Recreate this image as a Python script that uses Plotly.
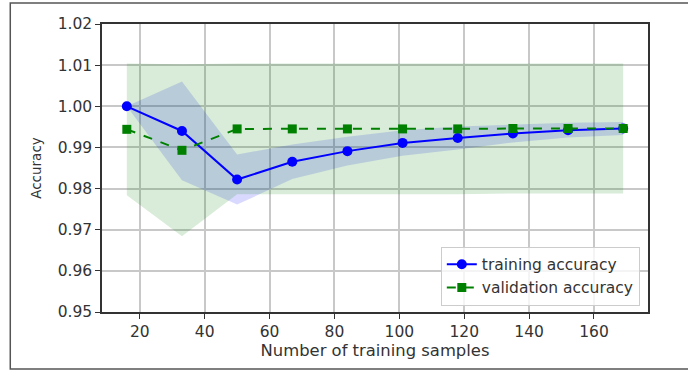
import plotly.graph_objects as go
import numpy as np

train_sizes = [16, 33, 50, 67, 84, 101, 118, 135, 152, 169]
train_mean = [1.0000, 0.9940, 0.9822, 0.9865, 0.9891, 0.9911, 0.9923, 0.9934, 0.9942, 0.9946]
train_std = [0.0000, 0.0120, 0.0061, 0.0042, 0.0035, 0.0031, 0.0028, 0.0022, 0.0018, 0.0016]
test_mean = [0.9944, 0.9893, 0.9945, 0.9945, 0.9945, 0.9945, 0.9945, 0.9946, 0.9946, 0.9946]
test_std = [0.0160, 0.0209, 0.0159, 0.0159, 0.0159, 0.0159, 0.0159, 0.0158, 0.0158, 0.0158]
x_ticks = [20, 40, 60, 80, 100, 120, 140, 160]
y_ticks = [0.95, 0.96, 0.97, 0.98, 0.99, 1.00, 1.01, 1.02]

tm = np.array(train_mean); ts = np.array(train_std)
vm = np.array(test_mean); vs = np.array(test_std)

fig = go.Figure()
# training band
fig.add_trace(go.Scatter(x=train_sizes, y=tm + ts, mode="lines", line=dict(width=0),
                         showlegend=False, hoverinfo="skip"))
fig.add_trace(go.Scatter(x=train_sizes, y=tm - ts, mode="lines", line=dict(width=0),
                         fill="tonexty", fillcolor="rgba(0,0,255,0.15)",
                         showlegend=False, hoverinfo="skip"))
# validation band
fig.add_trace(go.Scatter(x=train_sizes, y=vm + vs, mode="lines", line=dict(width=0),
                         showlegend=False, hoverinfo="skip"))
fig.add_trace(go.Scatter(x=train_sizes, y=vm - vs, mode="lines", line=dict(width=0),
                         fill="tonexty", fillcolor="rgba(0,128,0,0.15)",
                         showlegend=False, hoverinfo="skip"))
fig.add_trace(go.Scatter(x=train_sizes, y=train_mean, mode="lines+markers",
                         name="training accuracy",
                         line=dict(color="blue", width=2),
                         marker=dict(symbol="circle", size=10, color="blue")))
fig.add_trace(go.Scatter(x=train_sizes, y=test_mean, mode="lines+markers",
                         name="validation accuracy",
                         line=dict(color="green", width=2, dash="dash"),
                         marker=dict(symbol="square", size=9, color="green")))

axis_common = dict(showline=True, linecolor="#333333", linewidth=1.5, mirror=True,
                   ticks="outside", ticklen=5, tickcolor="#333333",
                   showgrid=True, gridcolor="#c8c8c8", gridwidth=1.5,
                   zeroline=False, automargin=False,
                   tickfont=dict(size=15.5, color="#333333"))

fig.update_xaxes(range=[8.35, 176.65], tickvals=x_ticks,
                 title=dict(text="Number of training samples", font=dict(size=16.4, color="#333333"),
                            standoff=0),
                 **axis_common)
fig.update_yaxes(range=[0.95, 1.02], tickvals=y_ticks, tickformat=".2f",
                 title=dict(text="Accuracy", font=dict(size=13.5, color="#333333"), standoff=13),
                 **axis_common)

fig.add_shape(type="rect", xref="paper", yref="paper",
              x0=-0.168, x1=1.08, y0=-0.198, y1=1.073,
              line=dict(color="#555555", width=1.5), fillcolor="rgba(0,0,0,0)", layer="below")

fig.update_layout(
    width=688, height=371,
    margin=dict(l=102, r=40, t=24, b=59),
    paper_bgcolor="white", plot_bgcolor="white",
    font=dict(family="DejaVu Sans", color="#333333"),
    legend=dict(x=0.985, y=0.022, xanchor="right", yanchor="bottom", traceorder="normal",
                bgcolor="rgba(255,255,255,0.8)", bordercolor="#cccccc", borderwidth=1,
                font=dict(size=15.5, color="#333333"), tracegroupgap=0, itemwidth=30),
)

fig.write_html("out.html", config={"displayModeBar": False},
               post_script="document.body.style.margin='0';document.body.style.overflow='hidden';")
